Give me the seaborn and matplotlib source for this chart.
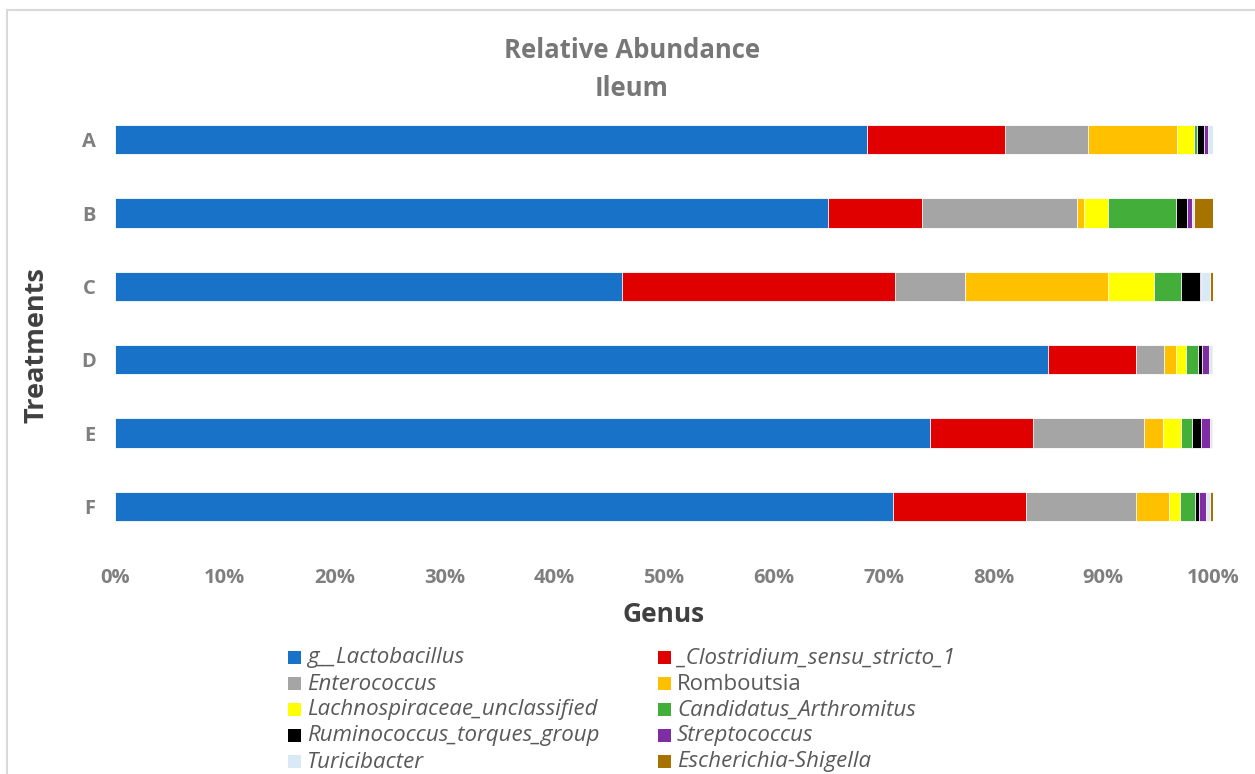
import numpy as np
import pandas as pd
import matplotlib
matplotlib.use("Agg")
import matplotlib.pyplot as plt
from matplotlib.patches import Rectangle
import seaborn as sns

treatments = ["A", "B", "C", "D", "E", "F"]
genera = ["g__Lactobacillus", "_Clostridium_sensu_stricto_1", "Enterococcus", "Romboutsia",
          "Lachnospiraceae_unclassified", "Candidatus_Arthromitus", "Ruminococcus_torques_group",
          "Streptococcus", "Turicibacter", "Escherichia-Shigella"]
italic_flags = [True, True, True, False, True, True, True, True, True, True]
colors = ["#1872C8", "#E00000", "#A5A5A5", "#FFC000", "#FFFF00", "#44AE3A", "#000000",
          "#7F2DA3", "#DAE9F6", "#A67300"]

lactobacillus = [68.5, 64.9, 46.2, 85.0, 74.2, 70.9]
clostridium = [12.6, 8.6, 24.8, 8.0, 9.4, 12.1]
enterococcus = [7.5, 14.1, 6.4, 2.5, 10.1, 10.0]
romboutsia = [8.1, 0.64, 13.0, 1.15, 1.73, 3.0]
lachnospiraceae = [1.6, 2.2, 4.2, 0.9, 1.67, 1.0]
arthromitus = [0.25, 6.2, 2.5, 1.06, 1.03, 1.35]
ruminococcus = [0.67, 1.0, 1.7, 0.42, 0.79, 0.33]
streptococcus = [0.33, 0.43, 0.1, 0.64, 0.85, 0.7]
turicibacter = [0.45, 0.18, 0.85, 0.22, 0.1, 0.37]
escherichia = [0.0, 1.75, 0.25, 0.11, 0.13, 0.25]

tick_labels = ["0%", "10%", "20%", "30%", "40%", "50%", "60%", "70%", "80%", "90%", "100%"]

series = [lactobacillus, clostridium, enterococcus, romboutsia, lachnospiraceae,
          arthromitus, ruminococcus, streptococcus, turicibacter, escherichia]

df = pd.DataFrame({g: v for g, v in zip(genera, series)}, index=treatments)
cum = df.cumsum(axis=1) / 100.0

sns.set_theme(style="white")
plt.rcParams['font.family'] = ['Open Sans', 'DejaVu Sans']

W, H = 1255, 774
fig = plt.figure(figsize=(W / 100, H / 100), dpi=100)
ax = fig.add_axes([115 / W, 1 - 543 / H, (1213 - 115) / W, (543 - 103) / H])

for i in range(len(genera) - 1, -1, -1):
    sub = pd.DataFrame({"Treatment": treatments, "value": cum.iloc[:, i].values})
    sns.barplot(data=sub, x="value", y="Treatment", orient="h", color=colors[i],
                width=0.4, edgecolor="white", linewidth=0.6, saturation=1, ax=ax)

ax.set_xlim(0, 1)
ax.set_xticks(np.linspace(0, 1, 11))
ax.set_xticklabels(tick_labels)
for s in ax.spines.values():
    s.set_visible(False)
ax.tick_params(axis="x", length=0, pad=18, labelsize=14.5, labelcolor="#7F7F7F")
ax.tick_params(axis="y", length=0, pad=14, labelsize=14.5, labelcolor="#7F7F7F")
for t in ax.get_xticklabels() + ax.get_yticklabels():
    t.set_fontweight("bold")
ax.set_xlabel("")
ax.set_ylabel("")

# frame
fig.patches.append(Rectangle((7 / W, -0.1), 1.2, 1 - 10 / H + 0.1, transform=fig.transFigure,
                             fill=False, edgecolor="#D9D9D9", linewidth=1.5))

fig.text(632 / W, 1 - 50 / H, "Relative Abundance", ha="center", va="center",
         fontsize=18.5, fontweight="bold", color="#777777")
fig.text(632 / W, 1 - 89 / H, "Ileum", ha="center", va="center",
         fontsize=18.5, fontweight="bold", color="#777777")
fig.text(37 / W, 1 - 345 / H, "Treatments", ha="center", va="center", rotation=90,
         fontsize=19.5, fontweight="bold", color="#404040")
fig.text(664 / W, 1 - 614 / H, "Genus", ha="center", va="center",
         fontsize=19, fontweight="bold", color="#404040")

# legend
for i, (g, c, it) in enumerate(zip(genera, colors, italic_flags)):
    row, col = i // 2, i % 2
    x0 = 288 + col * 370
    yc = 658 + row * 26
    fig.patches.append(Rectangle((x0 / W, 1 - (yc + 6) / H), 13 / W, 13 / H,
                                 transform=fig.transFigure, facecolor=c, edgecolor="none"))
    fig.text((x0 + 19) / W, 1 - yc / H, g, ha="left", va="center", fontsize=16,
             style="italic" if it else "normal", color="#595959")

fig.savefig("out.png", dpi=100)
